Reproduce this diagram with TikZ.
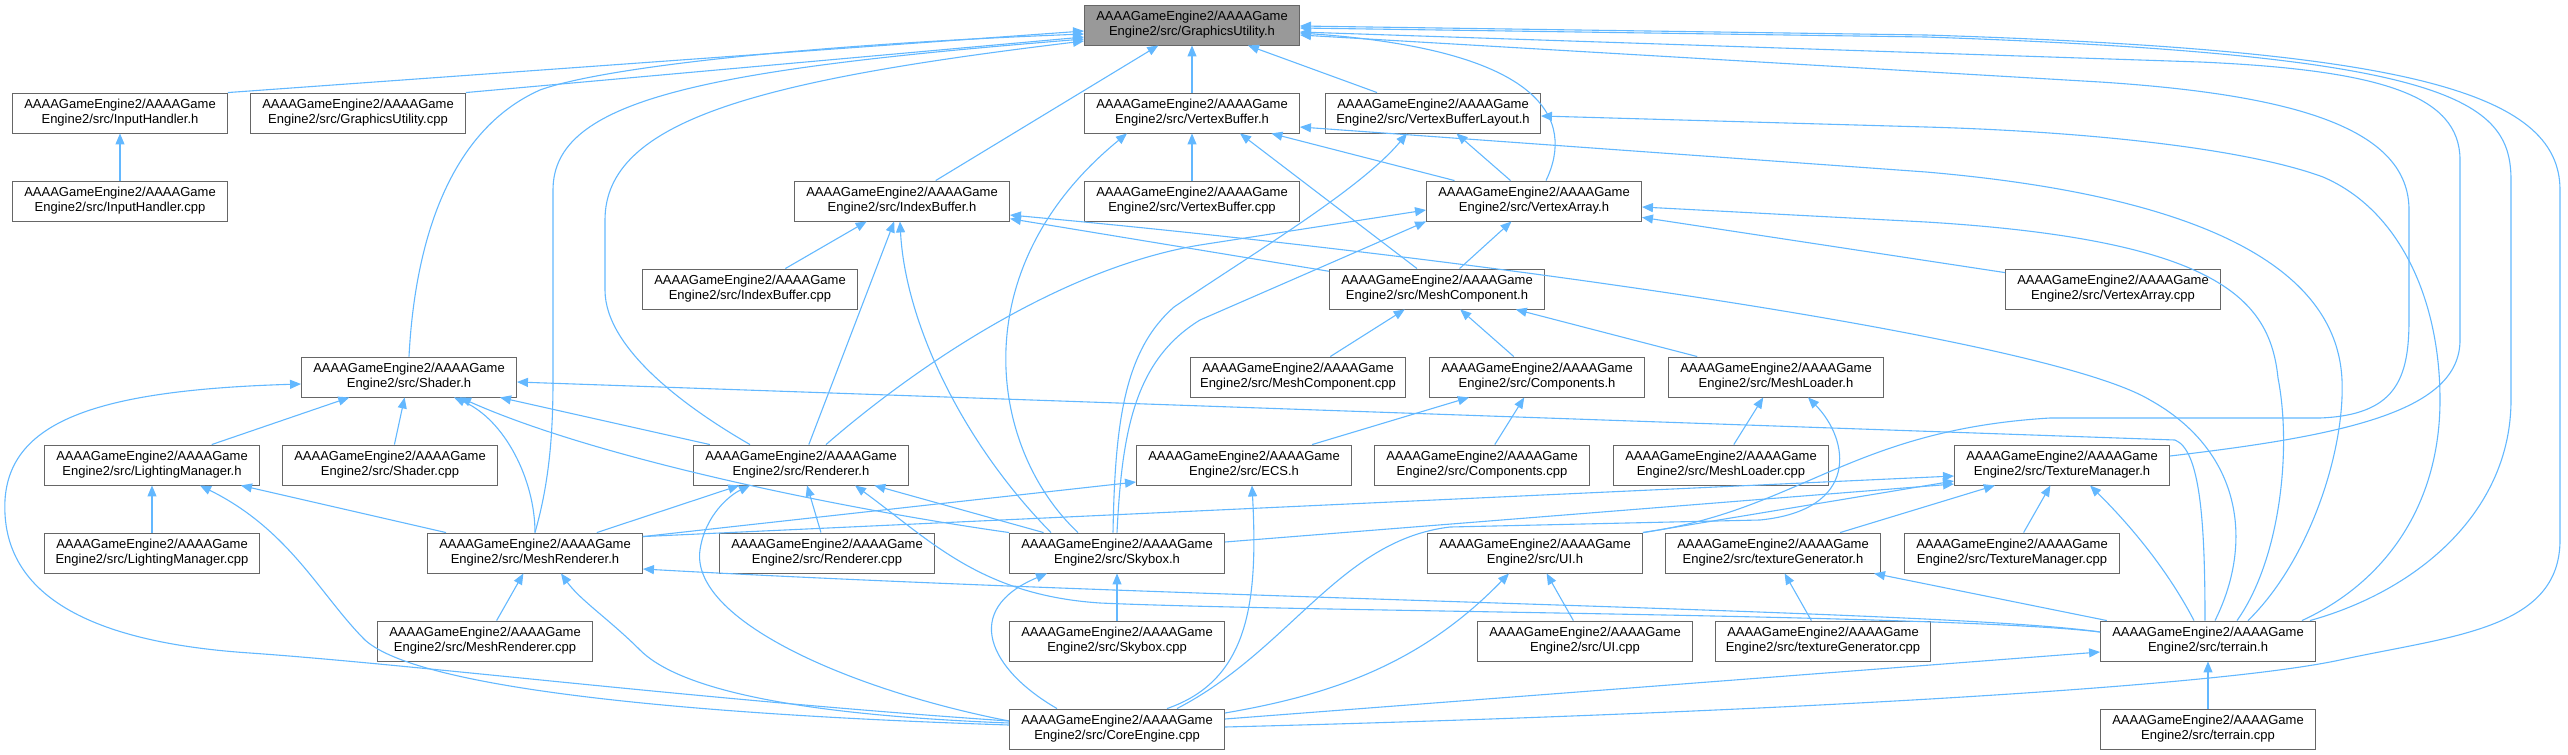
\documentclass[tikz,border=0pt]{standalone}
\usepackage{fontspec}
\setmainfont{Liberation Sans}
\usepackage{tikz}
\usetikzlibrary{arrows.meta}
\definecolor{DepBlue}{RGB}{99,184,255}
\definecolor{BoxGrey}{RGB}{102,102,102}
\definecolor{FocusGrey}{RGB}{153,153,153}
\newcommand{\srcname}[1]{AAAAGameEngine2/AAAAGame\\Engine2/src/#1}

\begin{document}
\begin{tikzpicture}[x=1pt, y=-1pt, >={Triangle[length=11pt,width=9pt]},
    every node/.style={font=\fontsize{13}{15}\selectfont},
    srcbox/.style={draw=BoxGrey, fill=white, line width=0.9pt, minimum width=215pt,
        minimum height=40pt, inner sep=1pt, align=center},
    dep/.style={->, draw=DepBlue, line width=1.1pt}]
\useasboundingbox (0,0) rectangle (2568,755);
\node[srcbox, fill=FocusGrey] (gu) at (1192,25) {\srcname{GraphicsUtility.h}};
\node[srcbox] (inh) at (120,113) {\srcname{InputHandler.h}};
\node[srcbox] (gucpp) at (358,113) {\srcname{GraphicsUtility.cpp}};
\node[srcbox] (vb) at (1192,113) {\srcname{VertexBuffer.h}};
\node[srcbox] (vbl) at (1433,113) {\srcname{VertexBufferLayout.h}};
\node[srcbox] (inhcpp) at (120,201) {\srcname{InputHandler.cpp}};
\node[srcbox] (ib) at (902,201) {\srcname{IndexBuffer.h}};
\node[srcbox] (vbcpp) at (1192,201) {\srcname{VertexBuffer.cpp}};
\node[srcbox] (va) at (1534,201) {\srcname{VertexArray.h}};
\node[srcbox] (ibcpp) at (750,289) {\srcname{IndexBuffer.cpp}};
\node[srcbox] (mc) at (1437,289) {\srcname{MeshComponent.h}};
\node[srcbox] (vacpp) at (2113,289) {\srcname{VertexArray.cpp}};
\node[srcbox] (shader) at (409,377) {\srcname{Shader.h}};
\node[srcbox] (mccpp) at (1298,377) {\srcname{MeshComponent.cpp}};
\node[srcbox] (comp) at (1537,377) {\srcname{Components.h}};
\node[srcbox] (mload) at (1776,377) {\srcname{MeshLoader.h}};
\node[srcbox] (lm) at (152,465) {\srcname{LightingManager.h}};
\node[srcbox] (shcpp) at (390,465) {\srcname{Shader.cpp}};
\node[srcbox] (rend) at (801,465) {\srcname{Renderer.h}};
\node[srcbox] (ecs) at (1244,465) {\srcname{ECS.h}};
\node[srcbox] (compcpp) at (1482,465) {\srcname{Components.cpp}};
\node[srcbox] (mloadcpp) at (1721,465) {\srcname{MeshLoader.cpp}};
\node[srcbox] (texmgr) at (2062,465) {\srcname{TextureManager.h}};
\node[srcbox] (lmcpp) at (152,553) {\srcname{LightingManager.cpp}};
\node[srcbox] (mr) at (535,553) {\srcname{MeshRenderer.h}};
\node[srcbox] (rendcpp) at (827,553) {\srcname{Renderer.cpp}};
\node[srcbox] (sky) at (1117,553) {\srcname{Skybox.h}};
\node[srcbox] (ui) at (1535,553) {\srcname{UI.h}};
\node[srcbox] (texgen) at (1773,553) {\srcname{textureGenerator.h}};
\node[srcbox] (texmgrcpp) at (2012,553) {\srcname{TextureManager.cpp}};
\node[srcbox] (mrcpp) at (485,641) {\srcname{MeshRenderer.cpp}};
\node[srcbox] (skycpp) at (1117,641) {\srcname{Skybox.cpp}};
\node[srcbox] (uicpp) at (1585,641) {\srcname{UI.cpp}};
\node[srcbox] (texgencpp) at (1823,641) {\srcname{textureGenerator.cpp}};
\node[srcbox] (terrain) at (2208,641) {\srcname{terrain.h}};
\node[srcbox] (core) at (1117,729) {\srcname{CoreEngine.cpp}};
\node[srcbox] (terraincpp) at (2208,729) {\srcname{terrain.cpp}};

\foreach \a/\b in {inhcpp/inh, ib/gu, vb/gu, vbl/gu, vbcpp/vb, va/vb, va/vbl, ibcpp/ib,
    rend/ib, mc/ib, vacpp/va, mc/va, mccpp/mc, comp/mc, mload/mc, ecs/comp, compcpp/comp,
    mloadcpp/mload, lm/shader, shcpp/shader, rend/shader, lmcpp/lm, mr/lm, mr/rend,
    rendcpp/rend, sky/rend, texgen/texmgr, texmgrcpp/texmgr, mrcpp/mr, skycpp/sky,
    uicpp/ui, texgencpp/texgen, terrain/texgen, terraincpp/terrain}
    \draw[dep] (\a) -- (\b);

\draw[dep] (inh.north east) -- ([yshift=-6pt]gu.west);
\draw[dep] (gucpp.north east) -- ([yshift=-12pt]gu.west);
\draw[dep] (shader.north) .. controls (415,240) and (450,130) .. (540,90)
    .. controls (600,68) and (800,45) .. ([yshift=-9pt]gu.west);
\draw[dep] (mr.north) .. controls (550,480) and (553,430) .. (553,380) -- (553,190)
    .. controls (553,100) and (700,70) .. ([yshift=-14pt]gu.west);
\draw[dep] ([xshift=-51pt]rend.north) .. controls (690,410) and (605,350) .. (605,290)
    -- (605,220) .. controls (605,120) and (760,80) .. ([yshift=-16pt]gu.west);
\draw[dep] ([xshift=12pt]va.north) .. controls (1575,120) and (1545,50) .. ([yshift=-8pt]gu.east);
\draw[dep] ([yshift=9pt]texmgr.east) .. controls (2350,435) and (2460,410) .. (2460,340)
    -- (2460,160) .. controls (2460,95) and (2380,70) .. (2200,62) -- ([yshift=-7pt]gu.east);
\draw[dep] (ui.north east) .. controls (1800,510) and (1850,430) .. (2050,418) -- (2320,418)
    .. controls (2395,415) and (2409,380) .. (2409,320) -- (2409,210)
    .. controls (2409,130) and (2300,95) .. (2100,82) -- ([yshift=-10pt]gu.east);
\draw[dep] ([xshift=-6pt]terrain.north east) .. controls (2420,590) and (2511,510) .. (2511,400)
    -- (2511,180) .. controls (2511,100) and (2450,55) .. (1926,37) -- ([yshift=-3pt]gu.east);
\draw[dep] ([yshift=2pt]core.east) .. controls (1700,715) and (2200,690) .. (2340,660)
    .. controls (2450,636) and (2560,630) .. (2560,540) -- (2560,190)
    .. controls (2560,90) and (2400,50) .. (1926,35) -- ([yshift=-1pt]gu.east);

\draw[dep] ([xshift=-20pt]mc.north) -- ([xshift=48pt]vb.south);
\draw[dep] ([xshift=-39pt]sky.north) .. controls (990,450) and (960,270) .. ([xshift=-65pt]vb.south);
\draw[dep] ([xshift=40pt]terrain.north) .. controls (2310,560) and (2345,450) .. (2342,380)
    .. controls (2338,290) and (2250,200) .. (1926,172) -- ([yshift=-14pt]vb.east);
\draw[dep] ([xshift=-4pt]sky.north) .. controls (1115,420) and (1125,350) .. (1174,307)
    .. controls (1250,255) and (1360,190) .. ([xshift=-26pt]vbl.south);
\draw[dep] ([xshift=-14pt]terrain.north east) .. controls (2390,580) and (2440,500) .. (2440,400)
    .. controls (2440,300) and (2400,210) .. (2323,177)
    .. controls (2250,150) and (2100,132) .. (1926,127) -- ([yshift=-3pt]vbl.east);
\draw[dep] ([xshift=-66pt]sky.north) .. controls (960,440) and (905,320) .. ([xshift=-2pt]ib.south);
\draw[dep] ([xshift=7pt]terrain.north) .. controls (2255,540) and (2240,450) .. (2150,400)
    .. controls (2050,340) and (1500,260) .. ([yshift=-14pt]ib.east);
\draw[dep] ([xshift=25pt]rend.north) .. controls (900,380) and (1050,270) .. (1200,245)
    -- ([yshift=-9pt]va.west);
\draw[dep] (sky.north) .. controls (1122,430) and (1135,360) .. (1200,320) -- (va.south west);
\draw[dep] ([xshift=29pt]terrain.north) .. controls (2280,560) and (2292,450) .. (2278,378)
    .. controls (2270,300) and (2220,240) .. (1926,222) -- ([yshift=-6pt]va.east);

\draw[dep] ([xshift=60pt]core.north) .. controls (1290,650) and (1340,540) .. (1450,527)
    -- (1760,520) .. controls (1860,510) and (1850,440) .. ([xshift=32pt]mload.south);
\draw[dep] (mr.north) .. controls (535,480) and (505,420) .. ([xshift=45pt]shader.south);
\draw[dep] (sky.north west) .. controls (850,510) and (600,460) .. ([xshift=51pt]shader.south);
\draw[dep] ([xshift=-3pt]terrain.north) .. controls (2205,520) and (2200,450) .. (2175,440)
    -- ([yshift=-5pt]shader.east);
\draw[dep] ([yshift=8pt]core.west) .. controls (700,700) and (420,665) .. (250,653)
    .. controls (100,643) and (0,600) .. (5,500)
    .. controls (10,420) and (100,390) .. ([yshift=-7pt]shader.west);
\draw[dep] ([yshift=4pt]core.west) .. controls (700,715) and (420,690) .. (365,640)
    .. controls (320,595) and (290,530) .. ([xshift=48pt]lm.south);
\draw[dep] ([yshift=9pt]terrain.west) .. controls (1950,614) and (1300,612) .. (1100,603)
    .. controls (980,595) and (930,540) .. ([xshift=54pt]rend.south);
\draw[dep] ([yshift=8pt]core.west) .. controls (850,690) and (690,620) .. (700,550)
    .. controls (705,515) and (730,495) .. ([xshift=-51pt]rend.south);
\draw[dep] ([yshift=-4pt]mr.north east) -- ([yshift=-17pt]ecs.west);
\draw[dep] ([xshift=50pt]core.north) .. controls (1250,680) and (1258,600) .. ([xshift=8pt]ecs.south);
\draw[dep] ([yshift=-4pt]mr.north east) -- ([yshift=-11pt]texmgr.west);
\draw[dep] ([yshift=11pt]sky.east) -- ([yshift=-19pt]texmgr.west);
\draw[dep] (ui.north east) -- ([yshift=-16pt]texmgr.west);
\draw[dep] ([xshift=-14pt]terrain.north) .. controls (2165,565) and (2125,520) .. ([xshift=28pt]texmgr.south);
\draw[dep] ([yshift=6pt]core.west) .. controls (800,715) and (680,690) .. (640,650)
    .. controls (610,620) and (580,600) .. ([xshift=26pt]mr.south);
\draw[dep] ([yshift=9pt]terrain.west) .. controls (1950,610) and (1200,600) .. ([yshift=-16pt]mr.east);
\draw[dep] ([xshift=-60pt]core.north) .. controls (990,670) and (960,610) .. ([xshift=-70pt]sky.south);
\draw[dep] ([yshift=16pt]core.east) .. controls (1330,695) and (1420,665) .. ([xshift=-26pt]ui.south);
\draw[dep] ([yshift=10pt]core.east) -- ([yshift=-11pt]terrain.west);
\end{tikzpicture}
\end{document}
